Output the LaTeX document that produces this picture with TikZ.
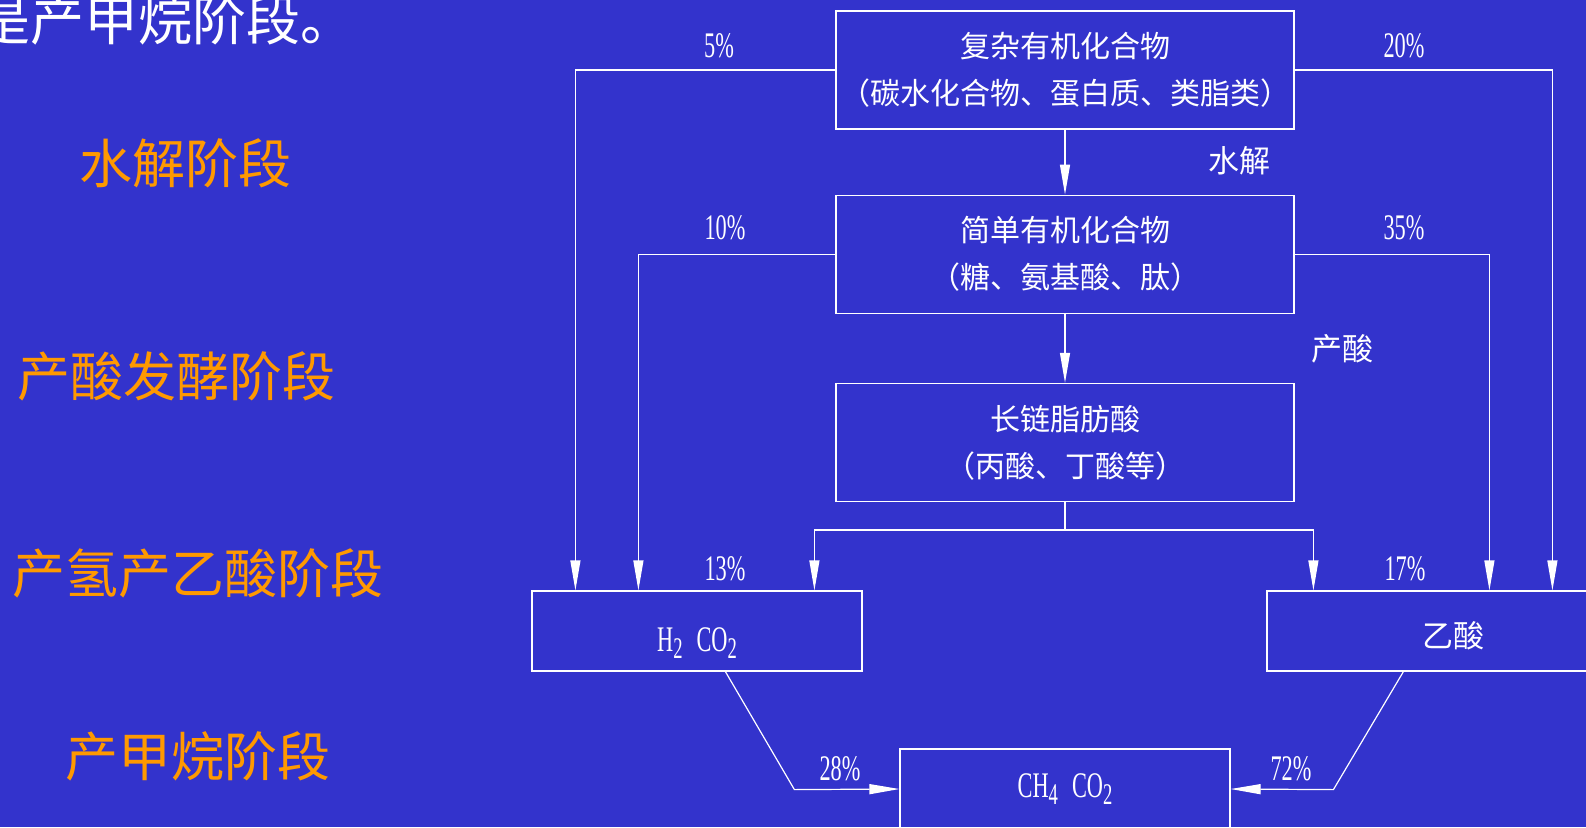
\documentclass[tikz,border=0pt]{standalone}
\usepackage{fontspec}
\setmainfont{Noto Sans CJK SC}
\newfontfamily\numfont[FakeStretch=0.62]{Liberation Serif}
\usetikzlibrary{positioning,arrows.meta}
\definecolor{slideblue}{HTML}{3333CC}
\definecolor{stageorange}{HTML}{FF9900}
\newcommand{\chemsub}[1]{\raisebox{-7pt}{\fontsize{30}{30}\selectfont #1}}

\begin{document}
\begin{tikzpicture}[x=1pt,y=-1pt,line width=1.2pt,color=white,
  stage/.style={text=stageorange,font=\fontsize{53}{53}\selectfont,inner sep=0pt},
  pct/.style={text=white,font=\numfont\fontsize{36}{36}\selectfont,inner sep=0pt},
  side/.style={text=white,font=\fontsize{31}{31}\selectfont,inner sep=0pt},
  stepbox/.style={draw=white,rectangle,text=white,align=center,inner sep=0pt,
    minimum width=458pt,minimum height=118pt,font=\fontsize{30}{47}\selectfont},
  gasbox/.style={draw=white,rectangle,text=white,inner sep=0pt,
    minimum width=330pt,minimum height=80pt,font=\numfont\fontsize{36}{36}\selectfont},
  arr/.style={draw=white,-{Triangle[length=30pt,width=10pt]}}]
  \useasboundingbox (0,0) rectangle (1586,827);
  \clip (0,0) rectangle (1586,827);
  \fill[slideblue] (0,0) rectangle (1586,827);

  % slide title, cut at the top
  \node[anchor=west,text=white,font=\fontsize{54}{54}\selectfont,inner sep=0pt] (title) at (-24,20) {是产甲烷阶段。};

  % the four stages
  \node[stage] (stHydro) at (185,163) {水解阶段};
  \node[stage] (stAcid) at (176,376) {产酸发酵阶段};
  \node[stage] (stAceto) at (198,573) {产氢产乙酸阶段};
  \node[stage] (stMeth) at (198,756) {产甲烷阶段};

  % the chain of organic matter
  \node[stepbox] (complex) at (1065,70) {复杂有机化合物\\（碳水化合物、蛋白质、类脂类）};
  \node[stepbox] (simple) [below=65pt of complex] {简单有机化合物\\（糖、氨基酸、肽）};
  \node[stepbox] (lcfa) [below=69pt of simple] {长链脂肪酸\\（丙酸、丁酸等）};
  \draw[arr] (complex) -- (simple);
  \draw[arr] (simple) -- (lcfa);
  \node[side] (lblHydro) at (1239,161) {水解};
  \node[side] (lblAcid) at (1342,349) {产酸};

  % products
  \node[gasbox] (hco) at (697,631) {\raisebox{-20pt}[12pt][12pt]{H\chemsub{2}\hspace{14pt}CO\chemsub{2}}};
  \node[gasbox,minimum width=372pt,font=\fontsize{31}{31}\selectfont] (acid) at (1453,631) {\raisebox{-16pt}[12pt][12pt]{乙酸}};
  \node[gasbox] (methane) at (1065,789) {CH\chemsub{4}\hspace{14pt}CO\chemsub{2}};

  % side streams
  \draw[arr] (complex.west) -| ([xshift=44pt]hco.north west);
  \draw[arr] (simple.west) -| ([xshift=107pt]hco.north west);
  \draw[arr] (complex.east) -| ([xshift=286pt]acid.north west);
  \draw[arr] (simple.east) -| ([xshift=223pt]acid.north west);
  \draw[white] (lcfa.south) -- ++(0,28) coordinate (split);
  \draw[arr] (split) -| ([xshift=283pt]hco.north west);
  \draw[arr] (split) -| ([xshift=47pt]acid.north west);
  \draw[arr] ([xshift=194pt]hco.south west) -- ++(69,118) -- (methane.west);
  \draw[arr] ([xshift=137pt]acid.south west) -- ++(-70,118) -- (methane.east);

  \node[pct] (p5) at (719,46) {5\%};
  \node[pct] (p20) at (1404,46) {20\%};
  \node[pct] (p10) at (725,228) {10\%};
  \node[pct] (p35) at (1404,228) {35\%};
  \node[pct] (p13) at (725,569) {13\%};
  \node[pct] (p17) at (1405,569) {17\%};
  \node[pct] (p28) at (840,769) {28\%};
  \node[pct] (p72) at (1291,769) {72\%};
\end{tikzpicture}
\end{document}
